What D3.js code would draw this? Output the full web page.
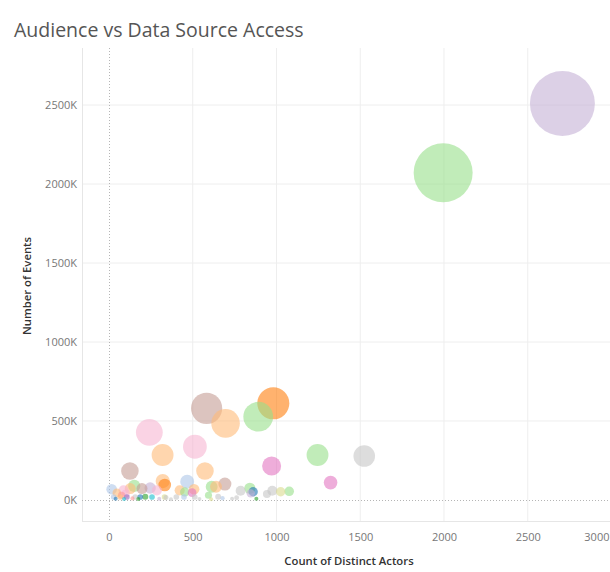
<!DOCTYPE html>
<html>
<head>
<meta charset="utf-8">
<script src="https://cdn.jsdelivr.net/npm/d3@7"></script>
<style>
  html, body { margin: 0; padding: 0; background: #fff; overflow: hidden; }
  svg { display: block; }
  text { font-family: "Open Sans", "Noto Sans", sans-serif; }
</style>
</head>
<body>
<svg id="chart" width="610" height="572"></svg>
<script>
// ---- Data ----
const title = "Audience vs Data Source Access";
const xTitle = "Count of Distinct Actors";
const yTitle = "Number of Events";
const xTicks = [0, 500, 1000, 1500, 2000, 2500, 3000];
const yTicksK = [0, 500, 1000, 1500, 2000, 2500];

// Count of distinct actors per data source
const actors = [
  2707, 1995, 981, 891, 583, 696, 241, 513, 320, 573, 125, 971, 1245, 1524, 1323,
  321, 333, 467, 692, 613, 639, 841, 786, 861, 846, 975, 943, 1025, 1076, 594,
  652, 678, 762, 880, 16, 87, 151, 127, 197, 246, 286, 422, 452, 496, 508,
  28, 67, 107, 157, 187, 217, 257, 332, 340, 402, 448, 512, 47, 75, 100,
  40, 90, 140, 175, 300, 370, 540, 610, 735
];
// Number of events (thousands) per data source; also the bubble size
const eventsK = [
  2510, 2071, 612, 527, 580, 485, 428, 337, 285, 184, 184, 215, 285, 278, 110,
  120, 95, 116, 101, 84, 84, 74, 59, 52, 42, 59, 38, 52, 55, 30,
  21, 11, 14, 8, 68, 61, 89, 72, 72, 76, 61, 61, 51, 46, 68,
  19, 19, 19, 19, 19, 21, 19, 19, 15, 19, 19, 19, 45, 30, 40,
  8, 6, 10, 6, 8, 5, 6, 5, 8
];
// Colour of each bubble (Tableau 20 palette)
const colors = [
  "#c5b0d5", "#98df8a", "#ff7f0e", "#98df8a", "#c49c94", "#ffbb78", "#f7b6d2", "#f7b6d2", "#ffbb78", "#ffbb78", "#c49c94", "#e377c2", "#98df8a", "#c7c7c7", "#e377c2",
  "#ffbb78", "#ff7f0e", "#aec7e8", "#c49c94", "#98df8a", "#ffbb78", "#98df8a", "#c7c7c7", "#1f77b4", "#c5b0d5", "#c7c7c7", "#c7c7c7", "#dbdb8d", "#98df8a", "#98df8a",
  "#c7c7c7", "#aec7e8", "#c7c7c7", "#2ca02c", "#aec7e8", "#f7b6d2", "#98df8a", "#ffbb78", "#c49c94", "#c5b0d5", "#f7b6d2", "#ffbb78", "#98df8a", "#e377c2", "#ffbb78",
  "#aec7e8", "#ffbb78", "#9467bd", "#c7c7c7", "#1f77b4", "#2ca02c", "#17becf", "#dbdb8d", "#c7c7c7", "#c7c7c7", "#aec7e8", "#c7c7c7", "#ffbb78", "#ff9896", "#f7b6d2",
  "#1f77b4", "#17becf", "#ff9896", "#2ca02c", "#c5b0d5", "#c7c7c7", "#c7c7c7", "#dbdb8d", "#c7c7c7"
];

// ---- Build ----
const W = 610, H = 572;
const svg = d3.select("#chart");

const x = d3.scaleLinear().domain([-161, 3000]).range([82, 611.5]);
const y = d3.scaleLinear().domain([-133, 2861]).range([521, 48]);
const r = d3.scaleSqrt().domain([0, 2500]).range([0, 32.4]);

const plot = { left: 82, right: W, top: 48, bottom: 521 };

// Title
svg.append("text")
  .attr("x", 14).attr("y", 37)
  .attr("font-size", 19.5)
  .attr("fill", "#555")
  .text(title);

// Gridlines
const grid = svg.append("g");
grid.selectAll("line.v").data(xTicks.filter(d => d !== 0)).join("line")
  .attr("x1", d => x(d)).attr("x2", d => x(d))
  .attr("y1", plot.top).attr("y2", plot.bottom)
  .attr("stroke", "#eeeeee").attr("stroke-width", 1);
grid.selectAll("line.h").data(yTicksK.filter(d => d !== 0)).join("line")
  .attr("x1", plot.left).attr("x2", plot.right)
  .attr("y1", d => y(d)).attr("y2", d => y(d))
  .attr("stroke", "#eeeeee").attr("stroke-width", 1);

// Pane borders
svg.append("line")
  .attr("x1", plot.left + 0.5).attr("x2", plot.left + 0.5)
  .attr("y1", plot.top).attr("y2", plot.bottom)
  .attr("stroke", "#e6e6e6");
svg.append("line")
  .attr("x1", plot.left).attr("x2", plot.right)
  .attr("y1", plot.bottom + 0.5).attr("y2", plot.bottom + 0.5)
  .attr("stroke", "#e6e6e6");

// Zero lines (dotted)
svg.append("line")
  .attr("x1", Math.round(x(0)) + 0.5).attr("x2", Math.round(x(0)) + 0.5)
  .attr("y1", plot.top).attr("y2", plot.bottom)
  .attr("stroke", "#b5b5b5").attr("stroke-dasharray", "1,2");
svg.append("line")
  .attr("x1", plot.left).attr("x2", plot.right)
  .attr("y1", Math.round(y(0)) + 0.5).attr("y2", Math.round(y(0)) + 0.5)
  .attr("stroke", "#b5b5b5").attr("stroke-dasharray", "1,2");

// Axes (labels only)
const xAxis = d3.axisBottom(x).tickValues(xTicks).tickSize(0).tickPadding(0).tickFormat(d3.format("d"));
const gx = svg.append("g").attr("transform", `translate(0,${plot.bottom + 12})`).call(xAxis);
gx.select(".domain").remove();
gx.selectAll("text").attr("font-size", 11).attr("fill", "#777")
  .attr("font-family", "'Open Sans', sans-serif").attr("dy", "0.71em");
// keep the last label inside the window (it sits at the right edge)
gx.selectAll(".tick").filter(d => x(d) + 14 > W)
  .select("text").attr("text-anchor", "end")
  .attr("x", d => (W - 1) - x(d));

const yAxis = d3.axisLeft(y).tickValues(yTicksK).tickSize(0).tickPadding(0).tickFormat(d => d + "K");
const gy = svg.append("g").attr("transform", `translate(${plot.left - 5},0)`).call(yAxis);
gy.select(".domain").remove();
gy.selectAll("text").attr("font-size", 11).attr("fill", "#777")
  .attr("font-family", "'Open Sans', sans-serif");

// Axis titles
svg.append("text")
  .attr("x", 349).attr("y", 565)
  .attr("text-anchor", "middle")
  .attr("font-size", 11.3).attr("font-weight", 600).attr("fill", "#333")
  .text(xTitle);
svg.append("text")
  .attr("transform", "translate(31,286) rotate(-90)")
  .attr("text-anchor", "middle")
  .attr("font-size", 11.3).attr("font-weight", 600).attr("fill", "#333")
  .text(yTitle);

// Bubbles
const data = actors.map((a, i) => ({ a, e: eventsK[i], c: colors[i] }))
  .sort((p, q) => q.e - p.e);
svg.append("g").selectAll("circle").data(data).join("circle")
  .attr("cx", d => x(d.a))
  .attr("cy", d => y(d.e))
  .attr("r", d => Math.max(2, r(d.e)))
  .attr("fill", d => d.c)
  .attr("fill-opacity", 0.6);
</script>
</body>
</html>
